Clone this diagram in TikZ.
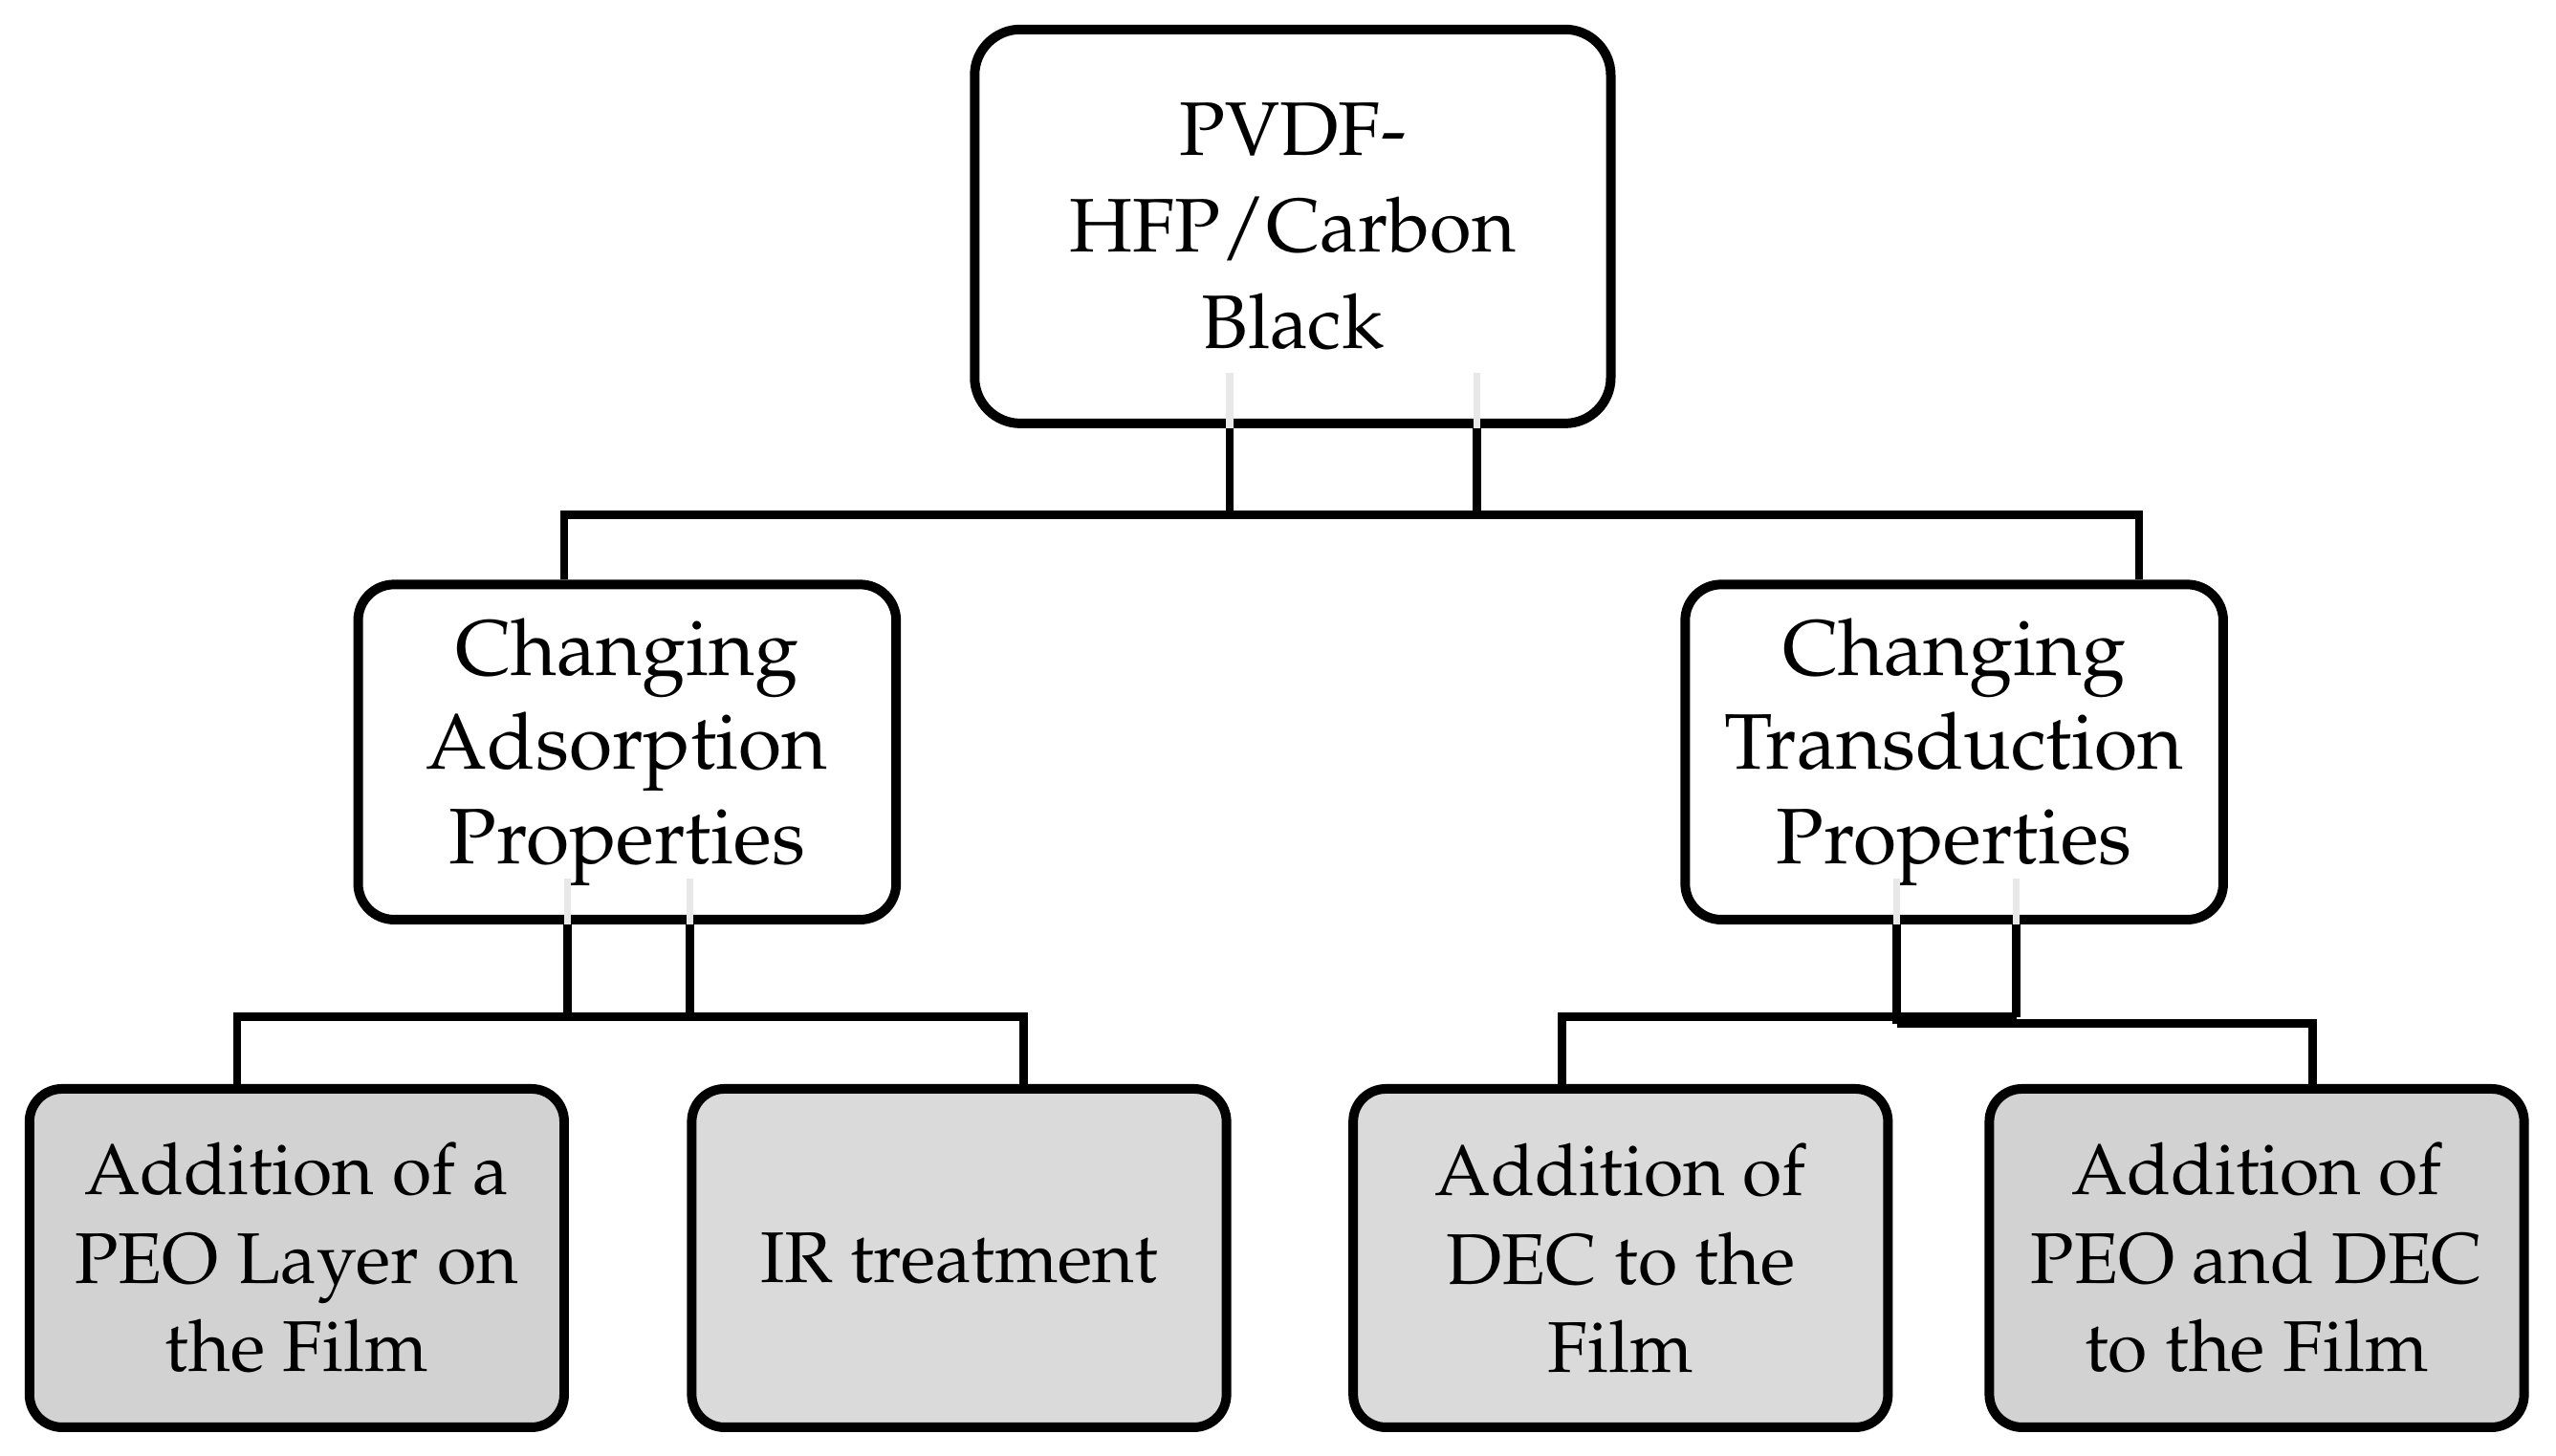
\documentclass[tikz,border=0pt]{standalone}
\usepackage[T1]{fontenc}
\renewcommand{\rmdefault}{ppl}
\definecolor{leafA}{HTML}{D2D2D2}
\definecolor{leafB}{HTML}{DADADA}
\tikzset{
  box/.style={draw, line width=1.66pt, rounded corners=0.2cm, align=center, inner sep=0pt},
  topbox/.style={box, rounded corners=0.28cm, minimum width=3.89cm, minimum height=2.41cm,
    font=\fontsize{13.2}{16.8}\selectfont},
  midbox/.style={box, rounded corners=0.22cm, minimum width=3.29cm, minimum height=2.05cm,
    font=\fontsize{13.7}{16.4}\selectfont},
  leafbox/.style={box, minimum width=3.27cm, minimum height=2.07cm,
    font=\fontsize{12.5}{15.4}\selectfont},
  link/.style={line width=1.45pt},
  ghost/.style={line width=1.2pt, black!9},
}
\begin{document}
\begin{tikzpicture}
\useasboundingbox (0,0) rectangle (15.63,-8.90);
% boxes
\node[topbox]  (top) at (7.905,-1.385) {PVDF-\\HFP/Carbon\\Black};
\node[midbox]  (ads) at (3.835,-4.60) {Changing\\Adsorption\\Properties};
\node[midbox]  (trn) at (11.95,-4.60) {Changing\\Transduction\\Properties};
\node[leafbox, fill=leafA] (peo)    at (1.815,-7.695) {Addition of a\\PEO Layer on\\the Film};
\node[leafbox, fill=leafB] (ir)     at (5.865,-7.695) {IR treatment};
\node[leafbox, fill=leafB] (dec)    at (9.91,-7.695)  {Addition of\\DEC to the\\Film};
\node[leafbox, fill=leafA] (peodec) at (13.80,-7.695) {Addition of\\PEO and DEC\\to the Film};
% junction points
\coordinate (tA) at (7.52,-3.15);
\coordinate (tB) at (9.03,-3.15);
\coordinate (tL) at (3.45,-3.15);
\coordinate (tR) at (13.08,-3.15);
\coordinate (aA) at (3.47,-6.22);
\coordinate (aB) at (4.22,-6.22);
\coordinate (aL) at (1.45,-6.22);
\coordinate (aR) at (6.26,-6.22);
\coordinate (rA) at (11.60,-6.26);
\coordinate (rB) at (12.33,-6.22);
\coordinate (rL) at (9.55,-6.22);
\coordinate (rR) at (14.14,-6.26);
% faint marks inside the boxes
\draw[ghost] (top.south -| tA) -- ++(0,0.34);
\draw[ghost] (top.south -| tB) -- ++(0,0.34);
\draw[ghost] (ads.south -| aA) -- ++(0,0.28);
\draw[ghost] (ads.south -| aB) -- ++(0,0.28);
\draw[ghost] (trn.south -| rA) -- ++(0,0.28);
\draw[ghost] (trn.south -| rB) -- ++(0,0.28);
% connectors
\draw[link] (top.south -| tA) -- (tA);
\draw[link] (top.south -| tB) -- (tB);
\draw[link] (ads.north -| tL) -- (tL) -- (tR) -- (trn.north -| tR);
\draw[link] (ads.south -| aA) -- (aA);
\draw[link] (ads.south -| aB) -- (aB);
\draw[link] (peo.north -| aL) -- (aL) -- (aR) -- (ir.north -| aR);
\draw[link] (trn.south -| rA) -- (rA);
\draw[link] (trn.south -| rB) -- (rB);
\draw[link] (dec.north -| rL) -- (rL) -- (rB);
\draw[link] (rA) -- (rR) -- (peodec.north -| rR);
\end{tikzpicture}
\end{document}
